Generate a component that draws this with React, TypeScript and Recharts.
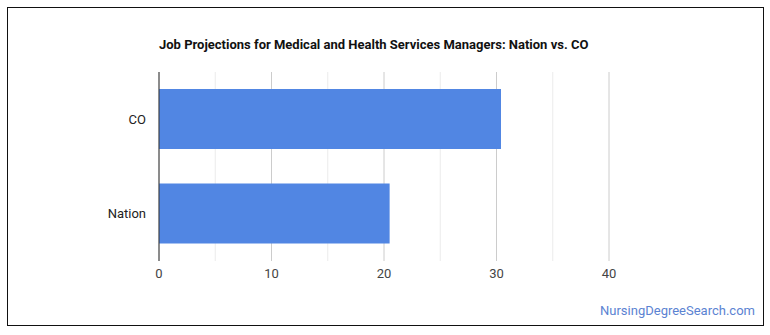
import { BarChart, Bar, XAxis, YAxis, CartesianGrid } from 'recharts';

// Job projection growth (%)
const regions = ['CO', 'Nation'];
const growth = [30.4, 20.5];
const majorTicks = [0, 10, 20, 30, 40];
const minorTicks = [5, 15, 25, 35];
const xDomain: [number, number] = [0, 40];

const data = regions.map((region, i) => ({ region, growth: growth[i] }));

const FONT = 'Roboto, "Noto Sans", sans-serif';

// minor gridlines: map values through the plot's linear x range
function minorLines({ xAxis, offset }: any) {
  const scale = xAxis && typeof xAxis.scale === 'function' ? xAxis.scale : null;
  if (scale) return minorTicks.map((t) => scale(t));
  const [d0, d1] = xDomain;
  return minorTicks.map((t) => offset.left + ((t - d0) / (d1 - d0)) * offset.width);
}

export default function App() {
  return (
    <div
      style={{
        position: 'absolute', left: 0, top: 0, width: 770, height: 335,
        background: '#fff', fontFamily: FONT,
      }}
    >
      {/* outer frame */}
      <div
        style={{
          position: 'absolute', left: 7, top: 7, width: 757, height: 319,
          border: '1px solid #111', boxSizing: 'border-box',
        }}
      />
      <BarChart
        width={770}
        height={335}
        data={data}
        layout="vertical"
        margin={{ top: 72, right: 161, left: 0, bottom: 44 }}
        style={{ position: 'absolute', left: 0, top: 0 }}
      >
        <CartesianGrid
          horizontal={false}
          stroke="#ebebeb"
          verticalCoordinatesGenerator={minorLines}
        />
        <CartesianGrid horizontal={false} stroke="#cccccc" />
        <XAxis
          type="number"
          domain={xDomain}
          ticks={majorTicks}
          axisLine={false}
          tickLine={false}
          tickSize={6}
          tickMargin={2}
          height={30}
          tick={{ fill: '#444', fontSize: 13, fontFamily: FONT }}
        />
        <YAxis
          type="category"
          dataKey="region"
          width={159}
          axisLine={{ stroke: '#333', strokeWidth: 1 }}
          tickLine={false}
          tickSize={0}
          tickMargin={13}
          tick={{ fill: '#222', fontSize: 13, fontFamily: FONT }}
        />
        <Bar dataKey="growth" fill="#5186e3" barSize={60} isAnimationActive={false} />
      </BarChart>
      <div
        style={{
          position: 'absolute', left: 159, top: 37, fontSize: 13, fontWeight: 700,
          color: '#111', whiteSpace: 'nowrap',
        }}
      >
        Job Projections for Medical and Health Services Managers: Nation vs. CO
      </div>
      <div
        style={{
          position: 'absolute', right: 15, top: 303, fontSize: 13,
          color: '#5b83d2', whiteSpace: 'nowrap',
        }}
      >
        NursingDegreeSearch.com
      </div>
    </div>
  );
}
